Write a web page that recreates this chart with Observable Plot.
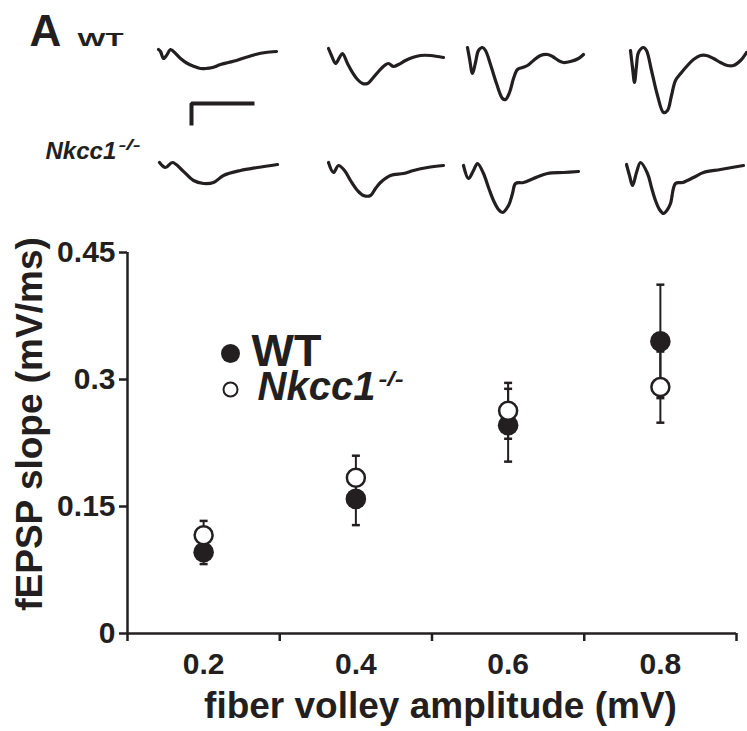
<!DOCTYPE html>
<html><head><meta charset="utf-8">
<script src="https://cdn.jsdelivr.net/npm/d3@7"></script>
<script src="https://cdn.jsdelivr.net/npm/@observablehq/plot@0.6"></script>
<style>
body{margin:0;background:#fff;}
#wrap{position:relative;width:747px;height:731px;overflow:hidden;background:#fff;}
#topPanel{position:absolute;left:0;top:0;}
#mainPanel{position:absolute;left:0;top:230px;}
</style></head><body><div id="wrap"><div id="topPanel"></div><div id="mainPanel"></div></div>
<script>
// ---- summary data (fiber volley amplitude vs fEPSP slope) ----
const amplitudes = [0.2, 0.4, 0.6, 0.8];
const xTickLabels = ["0.2", "0.4", "0.6", "0.8"];
const xBounds = [0.1, 0.3, 0.5, 0.7, 0.9];
const wtMean = [0.096, 0.159, 0.246, 0.345];
const wtSem  = [0.014, 0.031, 0.043, 0.067];
const koMean = [0.116, 0.184, 0.263, 0.291];
const koSem  = [0.017, 0.026, 0.033, 0.042];
const yTicks = [0, 0.15, 0.3, 0.45];
const yTickLabels = ["0", "0.15", "0.3", "0.45"];

// ---- example traces (time from onset, voltage deflection; arbitrary units) ----
const wtOnsets = [158, 328, 467, 630];
const koOnsets = [159, 328, 463, 626];
const rowBaselines = [50, 164];
const wtTraceTimes = [
  [0,2,5,8,12,15,22,29,36,42,47,54,62,70,78,87,97,107,118],
  [0,3,7,11,14,19,24,29,34,39,44,50,56,60,65,70,77,84,92,102,115],
  [0,2,5,8,11,15,18,23,29,35,38,42,46,50,55,60,66,73,80,85,91,96,103,111,116],
  [0,2,4,6,8,13,16,21,27,33,37,41,45,51,57,63,70,76,83,90,97,103,110,116]
];
const wtTraceVolts = [
  [1,-1,-8,-5,1,-1,-8,-13,-16,-18,-18,-17,-14,-12,-10,-7,-4,-2,-1],
  [2,-5,-13,-7,-3,-13,-22,-29,-33,-33,-28,-21,-15,-13,-16,-14,-10,-7,-5,-5,-7],
  [3,-8,-23,-12,0,3,0,-14,-33,-48,-49,-42,-28,-19,-17,-15,-10,-5,-4,-6,-10,-12,-11,-8,-4],
  [0,-17,-32,-15,-2,3,0,-20,-45,-62,-60,-45,-30,-22,-15,-9,-5,-5,-8,-12,-15,-15,-10,-2]
];
const koTraceTimes = [
  [0,6,13,23,34,44,54,64,81,98,118],
  [0,5,10,16,22,29,35,42,47,52,62,75,85,99,115],
  [0,5,10,14,20,25,30,35,39,45,49,52,60,70,84,100,115],
  [0,3,6,10,14,21,25,29,33,37,41,44,49,56,67,77,94,117]
];
const koTraceVolts = [
  [2,-3,2,-6,-16,-19,-18,-11,-6,-3,0],
  [2,-8,-1,-6,-16,-26,-31,-31,-24,-18,-11,-9,-6,-3,-1],
  [-1,-14,-6,1,-9,-23,-36,-45,-48,-41,-29,-19,-18,-14,-9,-8,-7],
  [0,-11,-21,-8,2,-9,-23,-36,-45,-49,-45,-39,-19,-18,-13,-8,-5,-1]
];
const scaleBarOrigin = [191, 103];
const scaleBarSize = [61, 20];

const ink = "#231f20";
const font = "'Liberation Sans', Arial, Helvetica, sans-serif";

function fitText(svg, str, len) {
  svg.querySelectorAll("text").forEach(t => {
    if (t.textContent === str) {
      t.setAttribute("textLength", len);
      t.setAttribute("lengthAdjust", "spacingAndGlyphs");
    }
  });
}

// ---- top: traces ----
const traces = [];
[[wtOnsets, wtTraceTimes, wtTraceVolts, 0], [koOnsets, koTraceTimes, koTraceVolts, 1]].forEach(([ons, T, V, row]) => {
  T.forEach((ts, k) => ts.forEach((t, j) => traces.push({id: row + "-" + k, x: ons[k] + t, y: rowBaselines[row] - V[k][j]})));
});
const bar = [
  {x: scaleBarOrigin[0], y: scaleBarOrigin[1] + scaleBarSize[1]},
  {x: scaleBarOrigin[0], y: scaleBarOrigin[1]},
  {x: scaleBarOrigin[0] + scaleBarSize[0], y: scaleBarOrigin[1]}
];
const lbl = {frameAnchor: "top-left", textAnchor: "start", lineAnchor: "middle", fontWeight: "bold", fill: ink};
const topChart = Plot.plot({
  width: 747, height: 230, margin: 0,
  style: {fontFamily: font, color: ink, background: "white", overflow: "visible"},
  x: {domain: [0, 747], axis: null},
  y: {domain: [0, 230], reverse: true, axis: null},
  marks: [
    Plot.line(traces, {x: "x", y: "y", z: "id", stroke: ink, strokeWidth: 3.2, curve: "catmull-rom", strokeLinejoin: "round", strokeLinecap: "round"}),
    Plot.line(bar, {x: "x", y: "y", stroke: ink, strokeWidth: 4, strokeLinejoin: "miter", strokeLinecap: "square"}),
    Plot.text(["A"], {...lbl, text: d => d, dx: 29, dy: 31, fontSize: 44}),
    Plot.text(["WT"], {...lbl, text: d => d, dx: 77, dy: 39, fontSize: 19}),
    Plot.text(["Nkcc1"], {...lbl, text: d => d, dx: 45, dy: 151, fontSize: 24, fontStyle: "italic"}),
    Plot.text(["-/-"], {...lbl, text: d => d, dx: 118, dy: 145, fontSize: 15, fontStyle: "italic"})
  ]
});
fitText(topChart, "WT", 46);
fitText(topChart, "-/-", 22);
document.getElementById("topPanel").append(topChart);

// ---- main scatter ----
const wt = amplitudes.map((a, i) => ({a, m: wtMean[i], e: wtSem[i]}));
const ko = amplitudes.map((a, i) => ({a, m: koMean[i], e: koSem[i]}));
const caps = [...wt, ...ko].flatMap(d => [{a: d.a, y: d.m - d.e}, {a: d.a, y: d.m + d.e}]);
const capSymbol = {draw(ctx, size) { const w = Math.sqrt(size / Math.PI); ctx.moveTo(-w, 0); ctx.lineTo(w, 0); }};

const mainChart = Plot.plot({
  width: 747, height: 501, marginTop: 22, marginBottom: 98, marginLeft: 127, marginRight: 11,
  style: {fontFamily: font, color: ink, background: "white", overflow: "visible"},
  x: {type: "linear", domain: [0.1, 0.9]},
  y: {domain: [0, 0.45]},
  marks: [
    Plot.axisX({ticks: xBounds, tickSize: 8, tickFormat: () => "", strokeWidth: 2.5, label: null}),
    Plot.axisY({ticks: yTicks, tickSize: 8, tickFormat: () => "", strokeWidth: 2.5, label: null}),
    Plot.ruleY([0], {stroke: ink, strokeWidth: 2.5}),
    Plot.ruleX([0.1], {stroke: ink, strokeWidth: 2.5}),
    Plot.text(amplitudes, {x: d => d, text: (d, i) => xTickLabels[i], frameAnchor: "bottom", lineAnchor: "top", dy: 19, fontSize: 30, fontWeight: "bold", fill: ink}),
    Plot.text(yTicks, {y: d => d, text: (d, i) => yTickLabels[i], frameAnchor: "left", textAnchor: "end", lineAnchor: "middle", dx: -12, fontSize: 30, fontWeight: "bold", fill: ink}),
    Plot.text(["fEPSP slope (mV/ms)"], {text: d => d, frameAnchor: "left", textAnchor: "middle", lineAnchor: "middle", rotate: -90, dx: -97, dy: -19, fontSize: 37, fontWeight: "bold", fill: ink}),
    Plot.text(["fiber volley amplitude (mV)"], {text: d => d, frameAnchor: "bottom", textAnchor: "middle", lineAnchor: "middle", dx: 8.5, dy: 73, fontSize: 37, fontWeight: "bold", fill: ink}),
    Plot.ruleX(wt, {x: "a", y1: d => d.m - d.e, y2: d => d.m + d.e, stroke: ink, strokeWidth: 2}),
    Plot.ruleX(ko, {x: "a", y1: d => d.m - d.e, y2: d => d.m + d.e, stroke: ink, strokeWidth: 2}),
    Plot.dot(caps, {x: "a", y: "y", r: 4, symbol: capSymbol, fill: "none", stroke: ink, strokeWidth: 2.5}),
    Plot.dot(wt, {x: "a", y: "m", r: 10.3, fill: ink, stroke: "none"}),
    Plot.dot(ko, {x: "a", y: "m", r: 9, fill: "white", stroke: ink, strokeWidth: 2.5}),
    // legend
    Plot.dot([0], {frameAnchor: "top-left", dx: 103, dy: 101, r: 9.5, fill: ink, stroke: "none"}),
    Plot.dot([0], {frameAnchor: "top-left", dx: 103, dy: 137, r: 7, fill: "white", stroke: ink, strokeWidth: 2}),
    Plot.text(["WT"], {...lbl, text: d => d, dx: 124, dy: 98.6, fontSize: 45}),
    Plot.text(["Nkcc1"], {...lbl, text: d => d, dx: 130, dy: 135, fontSize: 40, fontStyle: "italic"}),
    Plot.text(["-/-"], {...lbl, text: d => d, dx: 251, dy: 127, fontSize: 20, fontStyle: "italic"})
  ]
});
fitText(mainChart, "-/-", 25);
document.getElementById("mainPanel").append(mainChart);
</script></body></html>
